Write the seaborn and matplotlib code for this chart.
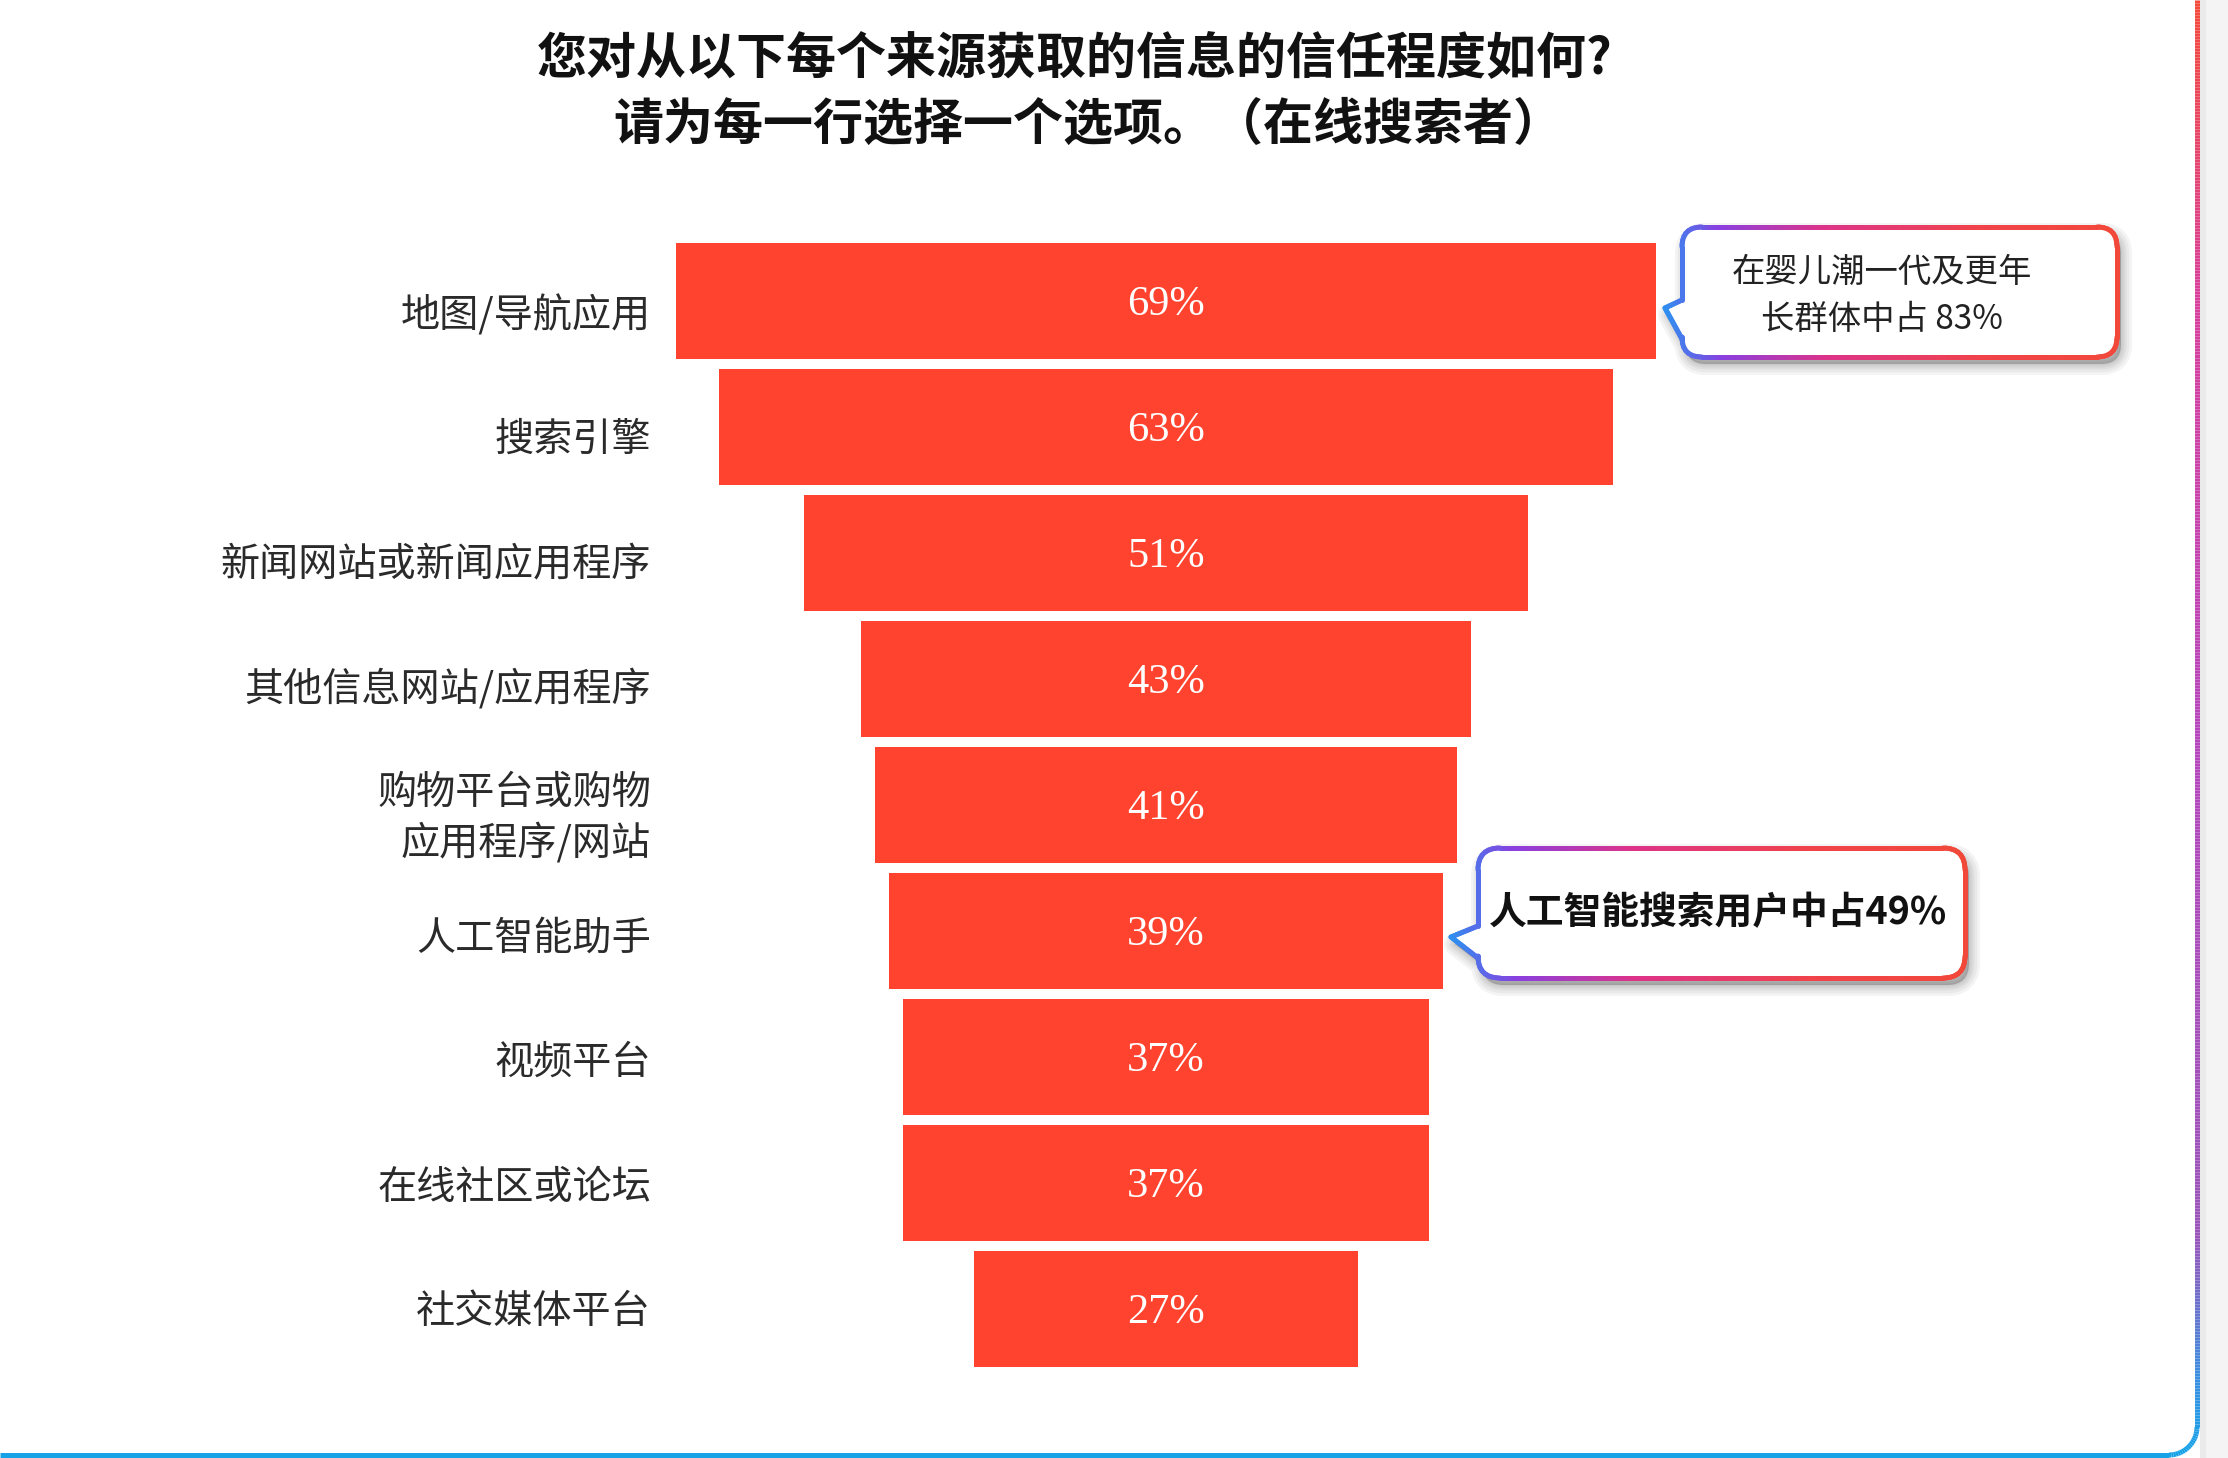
import numpy as np
import matplotlib
matplotlib.use('Agg')
import matplotlib.pyplot as plt
import matplotlib.transforms as mtransforms
import seaborn as sns
import pandas as pd
from matplotlib.path import Path
from matplotlib.patches import PathPatch, Rectangle
from matplotlib.collections import LineCollection
from matplotlib.colors import LinearSegmentedColormap

# ---------------- data ----------------
categories = ["地图/导航应用", "搜索引擎", "新闻网站或新闻应用程序", "其他信息网站/应用程序",
              "购物平台或购物\n应用程序/网站", "人工智能助手", "视频平台", "在线社区或论坛", "社交媒体平台"]
values = [69, 63, 51, 43, 41, 39, 37, 37, 27]
value_labels = [f"{v}%" for v in values]
title_lines = ["您对从以下每个来源获取的信息的信任程度如何?", "请为每一行选择一个选项。（在线搜索者）"]
callout1_text = "在婴儿潮一代及更年\n长群体中占 83%"
callout2_text = "人工智能搜索用户中占49%"

# ---------------- style ----------------
sns.set_theme(style='white')
plt.rcParams['font.family'] = ['Noto Sans CJK SC', 'DejaVu Sans']

W, H = 2228, 1458
fig = plt.figure(figsize=(W / 100, H / 100), dpi=100)
fig.patch.set_facecolor('white')


def fx(px):
    return px / W


def fy(py):
    return 1 - py / H


BAR_COLOR = '#FF432E'
ax_left, ax_right = 676, 1656
pitch = 126
top = 301 - pitch / 2
bottom = 1309 + pitch / 2
ax = fig.add_axes([fx(ax_left), fy(bottom), (ax_right - ax_left) / W, (bottom - top) / H])
df = pd.DataFrame({'cat': categories, 'val': values})
sns.barplot(data=df, x='val', y='cat', orient='h', color=BAR_COLOR, width=0.925,
            saturation=1, ax=ax, linewidth=0, edgecolor='none')
# center bars (funnel)
for p in ax.patches:
    w = p.get_width()
    p.set_x(-w / 2)
ax.set_xlim(-34.5, 34.5)
ax.set_ylim(len(values) - 0.5, -0.5)

for i, lab in enumerate(value_labels):
    ax.text(0, i + 0.03, lab, ha='center', va='center', color='white', fontsize=30.5,
            family=['Liberation Serif', 'DejaVu Serif'])

ax.set_xlabel('')
ax.set_ylabel('')
ax.set_xticks([])
ax.tick_params(axis='y', length=0, pad=18, labelsize=28.2, labelcolor='#2a2a2a')
for i, t in enumerate(ax.get_yticklabels()):
    t.set_linespacing(1.3)
    dy = (10 - 1.42 * i) / 100
    t.set_transform(t.get_transform() + mtransforms.ScaledTranslation(0, -dy, fig.dpi_scale_trans))
for s in ax.spines.values():
    s.set_visible(False)
ax.patch.set_alpha(0)

# ---------------- overlay (annotations, frame) ----------------
ov = fig.add_axes([0, 0, 1, 1], zorder=5)
ov.set_xlim(0, W)
ov.set_ylim(H, 0)
ov.axis('off')
ov.patch.set_alpha(0)


def callout_path(x0, y0, x1, y1, r, tail):
    ya, tx, ty, yb = tail
    V = [(x0 + r, y0), (x1 - r, y0), (x1, y0), (x1, y0 + r), (x1, y1 - r), (x1, y1), (x1 - r, y1),
         (x0 + r, y1), (x0, y1), (x0, y1 - r), (x0, yb), (tx, ty), (x0, ya), (x0, y0 + r),
         (x0, y0), (x0 + r, y0), (x0 + r, y0)]
    C = [Path.MOVETO, Path.LINETO, Path.CURVE3, Path.CURVE3, Path.LINETO, Path.CURVE3, Path.CURVE3,
         Path.LINETO, Path.CURVE3, Path.CURVE3, Path.LINETO, Path.LINETO, Path.LINETO, Path.LINETO,
         Path.CURVE3, Path.CURVE3, Path.CLOSEPOLY]
    return Path(V, C)


grad = LinearSegmentedColormap.from_list(
    'g', [(0, '#2f8ff0'), (0.12, '#8a3fe0'), (0.35, '#dc338a'), (0.7, '#f0434a'), (1, '#f2483a')])


def densify(poly, step=2.0):
    pts = []
    for a, b in zip(poly[:-1], poly[1:]):
        d = np.hypot(*(b - a))
        n = max(int(d / step), 1)
        for k in range(n):
            pts.append(a + (b - a) * k / n)
    pts.append(poly[-1])
    return np.array(pts)


def draw_callout(x0, y0, x1, y1, r, tail, text, tx, ty, **tkw):
    path = callout_path(x0, y0, x1, y1, r, tail)
    # soft shadow
    shadow = Path(path.vertices + np.array([4, 7]), path.codes)
    for lw in [16, 12, 8, 5, 2]:
        ov.add_patch(PathPatch(shadow, facecolor='#000000', edgecolor='#000000', alpha=0.045,
                               lw=lw, joinstyle='round'))
    ov.add_patch(PathPatch(path, facecolor='white', edgecolor='none'))
    poly = path.to_polygons(closed_only=True)[0]
    pts = densify(poly)
    segs = np.stack([pts[:-1], pts[1:]], axis=1)
    xm = (segs[:, 0, 0] + segs[:, 1, 0]) / 2
    tnorm = (xm - tail[1]) / (x1 - tail[1])
    lc = LineCollection(segs, colors=grad(np.clip(tnorm, 0, 1)), linewidths=3.6,
                        capstyle='round', joinstyle='round')
    ov.add_collection(lc)
    ov.text(tx, ty, text, ha='center', va='center', **tkw)


draw_callout(1682, 227, 2117, 357, 20, (300, 1665, 308, 339), callout1_text, 1882, 296,
             fontsize=24, color='#222222', linespacing=1.45)
draw_callout(1478, 848, 1965, 978, 22, (926, 1451, 937, 958), callout2_text, 1718, 913,
             fontsize=27.2, fontweight='bold', color='#111111')

# ---------------- frame ----------------
ov.add_patch(Rectangle((2200, 0), 28, H, facecolor='#f4f4f4', edgecolor='none'))
ov.add_patch(Rectangle((2200, 0), 6, H, facecolor='#eaeaea', edgecolor='none'))
fr = 28
frame_pts = [np.array([2197.0, 0.0]), np.array([2197.0, 1455 - fr])]
for a in np.linspace(0, np.pi / 2, 20)[1:]:
    frame_pts.append(np.array([2197 - fr + fr * np.cos(a), 1455 - fr + fr * np.sin(a)]))
frame_pts = densify(np.array(frame_pts), step=3)
fsegs = np.stack([frame_pts[:-1], frame_pts[1:]], axis=1)
fy_mid = (fsegs[:, 0, 1] + fsegs[:, 1, 1]) / 2
fgrad = LinearSegmentedColormap.from_list(
    'f', [(0, '#f44a3a'), (0.2, '#d8409a'), (0.5, '#b546bb'), (0.85, '#9a55b8'), (0.95, '#3a90e0'),
          (1, '#17a2e8')])
ov.add_collection(LineCollection(fsegs, colors=fgrad(fy_mid / 1455), linewidths=3.6,
                                 capstyle='butt'))
ov.plot([0, 2197 - fr], [1455, 1455], color='#17a2e8', lw=3.6, solid_capstyle='butt')

# ---------------- title ----------------
fig.text(fx(1075), fy(60), title_lines[0], ha='center', va='center', fontsize=36,
         fontweight='heavy', color='#111111')
fig.text(fx(1088), fy(125), title_lines[1], ha='center', va='center', fontsize=36,
         fontweight='heavy', color='#111111')

fig.savefig('out.png', dpi=100, facecolor='white')
